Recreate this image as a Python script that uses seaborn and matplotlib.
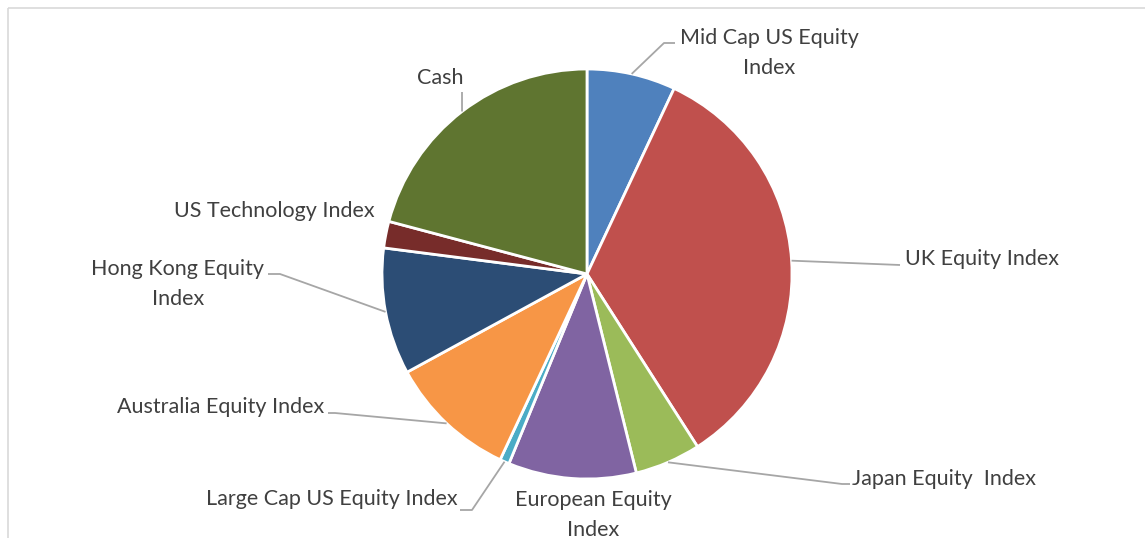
import numpy as np
import seaborn as sns
import matplotlib.pyplot as plt
from matplotlib.patches import Rectangle

# 데이터 (포트폴리오 비중, %)
labels = ['Mid Cap US Equity\nIndex', 'UK Equity Index', 'Japan Equity  Index',
          'European Equity\nIndex', 'Large Cap US Equity Index', 'Australia Equity Index',
          'Hong Kong Equity\nIndex', 'US Technology Index', 'Cash']
weights = [7.0, 34.0, 5.2, 10.1, 0.75, 10.1, 10.0, 2.1, 20.9]
colors = ['#4f81bd', '#c0504d', '#9bbb59', '#8064a2', '#4bacc6',
          '#f79646', '#2c4d75', '#772c2a', '#5f7530']

# 라벨 위치 (픽셀), 정렬, 지시선 꺾임점/끝점 (픽셀)
W, H = 1145, 538
CX, CY, R = 587, 274, 205
label_pos = [(769, 53), (905, 259), (852, 479), (593, 515), (458, 499),
             (324, 407), (178, 284), (375, 211), (440, 78)]
label_ha = ['center', 'left', 'left', 'center', 'right', 'right', 'center', 'right', 'center']
leader = [[(664, 43), (675, 43)],
          [(900, 265)],
          [(842, 484), (850, 484)],
          None,
          [(472, 510), (460, 510)],
          [(335, 413), (328, 413)],
          [(280, 274), (268, 274)],
          None,
          [(462, 92)]]


def px(p):
    return ((p[0] - CX) / R, (CY - p[1]) / R)


sns.set_theme(style='white')
plt.rcParams['font.family'] = ['Lato', 'DejaVu Sans']

fig = plt.figure(figsize=(W / 100, H / 100), dpi=100)
ax = fig.add_axes([0, 0, 1, 1])

wedges, _ = ax.pie(weights, colors=colors, startangle=90, counterclock=False,
                   radius=1, wedgeprops=dict(edgecolor='white', linewidth=2))

for w, lab, pos, ha, ld in zip(wedges, labels, label_pos, label_ha, leader):
    tx, ty = px(pos)
    ax.text(tx, ty, lab, ha=ha, va='center', fontsize=15.5, color='#404040',
            linespacing=1.6)
    if ld is None:
        continue
    mid = np.deg2rad((w.theta1 + w.theta2) / 2)
    pts = [(np.cos(mid), np.sin(mid))] + [px(p) for p in ld]
    xs, ys = zip(*pts)
    ax.plot(xs, ys, color='#a6a6a6', lw=1.3, solid_capstyle='butt')

# 차트 테두리
ax.add_patch(Rectangle(px((8, 8)), (W + 10) / R, -(H + 10) / R, fill=False,
                       edgecolor='#d9d9d9', lw=1.2, clip_on=True))

ax.set_xlim(-CX / R, (W - CX) / R)
ax.set_ylim(-(H - CY) / R, CY / R)
ax.set_aspect('equal')
ax.axis('off')

fig.savefig('out.png', dpi=100)
